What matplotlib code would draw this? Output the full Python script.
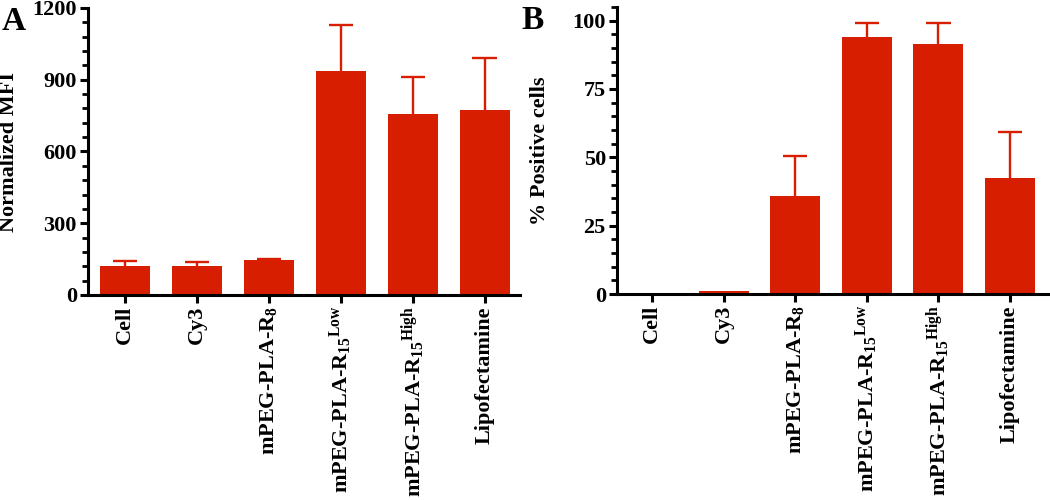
import matplotlib
matplotlib.use('Agg')
import matplotlib.pyplot as plt
from matplotlib.ticker import MultipleLocator

plt.rcParams['font.family'] = 'Liberation Serif'
plt.rcParams['font.weight'] = 'bold'
plt.rcParams['mathtext.fontset'] = 'custom'
plt.rcParams['mathtext.rm'] = 'Liberation Serif:bold'
plt.rcParams['mathtext.it'] = 'Liberation Serif:bold'
plt.rcParams['mathtext.bf'] = 'Liberation Serif:bold'

groups = ['Cell', 'Cy3', r'mPEG-PLA-R$_{8}$',
          r'mPEG-PLA-R$_{15}{}^{\mathrm{Low}}$',
          r'mPEG-PLA-R$_{15}{}^{\mathrm{High}}$',
          'Lipofectamine']

mfi = [121, 120, 145, 935, 755, 775]
mfi_err = [21, 20, 6, 192, 157, 215]

positive = [0, 1.0, 36, 94.2, 91.5, 42.3]
positive_err = [0, 0, 14.6, 5.1, 7.8, 17.1]

red = '#d81e00'


def upper_errors(ax, vals, errs):
    """only the upper half of the error bar, with a cap"""
    for i, (v, e) in enumerate(zip(vals, errs)):
        if e <= 0:
            continue
        ax.vlines(i, v, v + e, color=red, lw=1.7, zorder=1)
        ax.hlines(v + e, i - 0.17, i + 0.17, color=red, lw=1.7, zorder=1)


def style_axis(ax):
    ax.spines['top'].set_visible(False)
    ax.spines['right'].set_visible(False)
    for s in ['left', 'bottom']:
        ax.spines[s].set_linewidth(2.2)
    ax.tick_params(axis='both', which='major', width=2.2, length=6,
                   labelsize=16, pad=2)
    ax.tick_params(axis='y', which='minor', width=2.0, length=4)
    ax.tick_params(axis='x', which='minor', length=0)
    ax.set_xticks(range(len(groups)))
    ax.set_xticklabels(groups, rotation=90, fontsize=16, fontweight='bold')
    for lab in ax.get_yticklabels():
        lab.set_fontweight('bold')


fig = plt.figure(figsize=(10.5, 5), dpi=100)
x = range(len(groups))

# panel A
axA = fig.add_axes([0.0838, 0.41, 0.4114, 0.574])
axA.bar(x, mfi, width=0.7, color=red, zorder=2)
upper_errors(axA, mfi, mfi_err)
axA.set_xlim(-0.514, 5.49)
axA.set_ylim(0, 1200)
axA.yaxis.set_major_locator(MultipleLocator(300))
axA.yaxis.set_minor_locator(MultipleLocator(60))
style_axis(axA)
axA.set_ylabel('Normalized MFI', fontsize=16, fontweight='bold')
axA.yaxis.set_label_coords(-0.16, 0.5)

# panel B
axB = fig.add_axes([0.5876, 0.412, 0.4124, 0.574])
axB.bar(x, positive, width=0.7, color=red, zorder=2)
upper_errors(axB, positive, positive_err)
axB.set_xlim(-0.49, 5.56)
axB.set_ylim(0, 105)
axB.yaxis.set_major_locator(MultipleLocator(25))
axB.yaxis.set_minor_locator(MultipleLocator(5))
style_axis(axB)
axB.set_ylabel('% Positive cells', fontsize=16, fontweight='bold')
axB.yaxis.set_label_coords(-0.155, 0.5)

fig.text(0.002, 0.988, 'A', fontsize=24, fontweight='bold', va='top')
fig.text(0.497, 0.99, 'B', fontsize=24, fontweight='bold', va='top')

fig.savefig('out.png', dpi=100)
